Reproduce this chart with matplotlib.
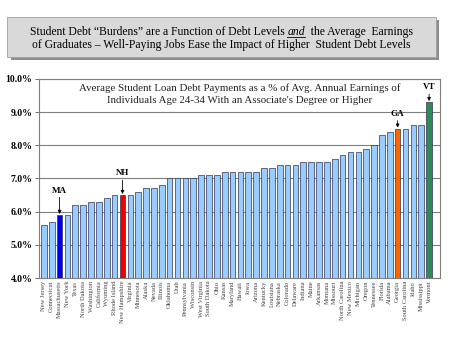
import matplotlib
matplotlib.use("Agg")
import matplotlib.pyplot as plt
from matplotlib.patches import Rectangle
from matplotlib.lines import Line2D

states = ["New Jersey", "Connecticut", "Massachusetts", "New York", "Texas",
          "North Dakota", "Washington", "California", "Wyoming", "Rhode Island",
          "New Hampshire", "Virginia", "Minnesota", "Alaska", "Nevada",
          "Illinois", "Oklahoma", "Utah", "Pennsylvania", "Wisconsin",
          "West Virginia", "South Dakota", "Ohio", "Kansas", "Maryland",
          "Hawaii", "Iowa", "Arizona", "Kentucky", "Louisiana",
          "Nebraska", "Colorado", "Delaware", "Indiana", "Maine",
          "Arkansas", "Montana", "Missouri", "North Carolina", "New Mexico",
          "Michigan", "Oregon", "Tennessee", "Florida", "Alabama",
          "Georgia", "South Carolina", "Idaho", "Mississippi", "Vermont"]
burden_pct = [5.6, 5.7, 5.9, 5.9, 6.2, 6.2, 6.3, 6.3, 6.4, 6.5,
              6.5, 6.5, 6.6, 6.7, 6.7, 6.8, 7.0, 7.0, 7.0, 7.0,
              7.1, 7.1, 7.1, 7.2, 7.2, 7.2, 7.2, 7.2, 7.3, 7.3,
              7.4, 7.4, 7.4, 7.5, 7.5, 7.5, 7.5, 7.6, 7.7, 7.8,
              7.8, 7.9, 8.0, 8.3, 8.4, 8.5, 8.5, 8.6, 8.6, 9.3]
# state -> (label, colour, arrow length in points)
highlights = {"Massachusetts": ("MA", "#0000ee", 14),
              "New Hampshire": ("NH", "#ee0000", 12),
              "Georgia": ("GA", "#ff6600", 7),
              "Vermont": ("VT", "#2e8b57", 7)}
y_ticks = [4, 5, 6, 7, 8, 9, 10]

serif = "Liberation Serif"
plt.rcParams["font.family"] = serif

fig = plt.figure(figsize=(4.5, 3.37), dpi=100)
fig.patch.set_facecolor("white")

# headline box with shadow
fig.add_artist(Rectangle((0.024, 0.822), 0.952, 0.118, transform=fig.transFigure,
                         facecolor="#8c8c8c", edgecolor="none"))
fig.add_artist(Rectangle((0.016, 0.832), 0.952, 0.118, transform=fig.transFigure,
                         facecolor="#d9d9d9", edgecolor="#a0a0a0", linewidth=0.6))

head_size = 8.4
renderer = fig.canvas.get_renderer()
parts = [("Student Debt \u201cBurdens\u201d are a Function of Debt Levels ", "normal"),
         ("and", "italic"),
         ("  the Average  Earnings", "normal")]
texts = []
for s, st in parts:
    texts.append(fig.text(0, 0.906, s, fontsize=head_size, style=st, va="center"))
widths = [t.get_window_extent(renderer).width for t in texts]
W = fig.bbox.width
x = 0.492 - sum(widths) / W / 2
for t, w in zip(texts, widths):
    t.set_x(x)
    if t.get_text() == "and":
        bb = t.get_window_extent(renderer)
        yline = (bb.y0 + 1) / fig.bbox.height
        fig.add_artist(Line2D([x, x + w / W], [yline, yline], transform=fig.transFigure,
                              color="black", linewidth=0.6))
    x += w / W
fig.text(0.492, 0.866, "of Graduates \u2013 Well-Paying Jobs Ease the Impact of Higher  Student Debt Levels",
         fontsize=head_size, ha="center", va="center")

ax = fig.add_axes([0.087, 0.175, 0.891, 0.591])
colors = [highlights[s][1] if s in highlights else "#99ccff" for s in states]
xs = list(range(len(states)))
ax.bar(xs, [v - 4 for v in burden_pct], bottom=4, width=0.72, color=colors,
       edgecolor="#333355", linewidth=0.5, zorder=3)

ax.set_ylim(4, 10)
ax.set_xlim(-0.6, 50.4)
ax.set_yticks(y_ticks)
ax.set_yticklabels([f"{v:.1f}%" for v in y_ticks], fontsize=7, fontweight="bold")
ax.set_xticks(xs)
ax.set_xticklabels(states, rotation=90, fontsize=4.7, color="#444444")
ax.tick_params(axis="x", length=0, pad=2)
ax.tick_params(axis="y", length=3, width=0.6, color="#555555", pad=2)
ax.grid(axis="y", color="#7f7f7f", linewidth=0.8, zorder=0)
for sp in ax.spines.values():
    sp.set_color("#7f7f7f")
    sp.set_linewidth(0.8)

for i, s in enumerate(states):
    if s in highlights:
        lab, _, arrow_len = highlights[s]
        ax.annotate(lab, xy=(i, burden_pct[i] + 0.03), xytext=(0, arrow_len),
                    textcoords="offset points", ha="center", va="bottom",
                    fontsize=6.5, fontweight="bold",
                    arrowprops=dict(arrowstyle="-|>", color="black", lw=0.6,
                                    mutation_scale=5, shrinkA=0, shrinkB=0))

ax.text(0.5, 0.922, "Average Student Loan Debt Payments as a % of Avg. Annual Earnings of\n"
        "Individuals Age 24-34 With an Associate's Degree or Higher",
        transform=ax.transAxes, ha="center", va="center", fontsize=7.8,
        linespacing=1.45, color="#222222")

fig.savefig("out.png", dpi=100)
